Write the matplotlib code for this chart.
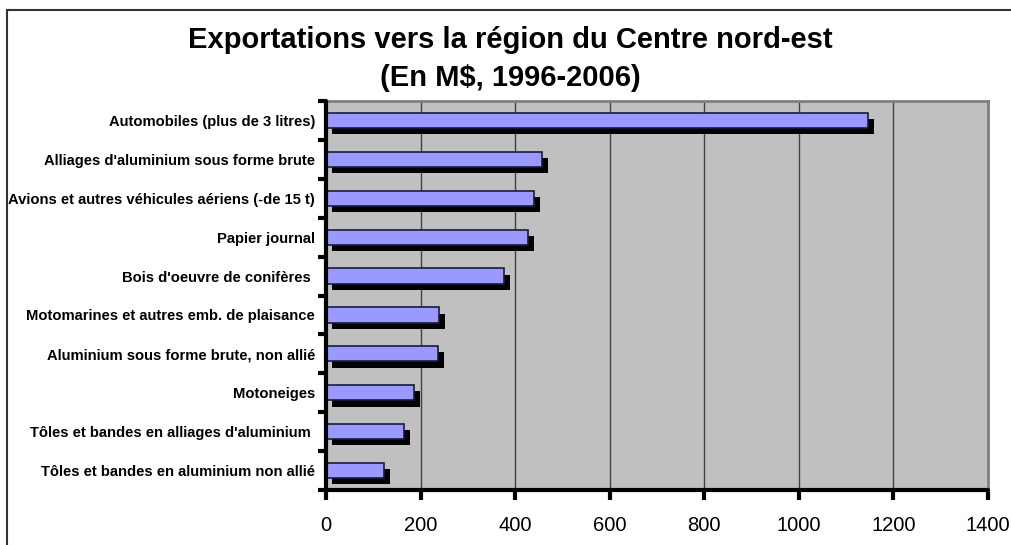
# -*- coding: utf-8 -*-
"""
Exportations vers la région du Centre nord-est (En M$, 1996-2006)
Barres horizontales avec ombre portée, style Excel.
"""

import numpy as np # Pour les positions des catégories
import matplotlib
matplotlib.use('Agg') # Pas d'affichage, on sauvegarde seulement
import matplotlib.pyplot as plt # Pour dessiner le graphique
from matplotlib.patches import Rectangle # Pour le cadre autour de la figure

# Données (du haut vers le bas)
categories = [
    "Automobiles (plus de 3 litres)",
    "Alliages d'aluminium sous forme brute",
    "Avions et autres véhicules aériens (-de 15 t)",
    "Papier journal",
    "Bois d'oeuvre de conifères ",
    "Motomarines et autres emb. de plaisance",
    "Aluminium sous forme brute, non allié",
    "Motoneiges",
    "Tôles et bandes en alliages d'aluminium ",
    "Tôles et bandes en aluminium non allié",
]
valeurs = [1147, 456, 440, 428, 377, 240, 236, 187, 164, 123]
ticks_x = [0, 200, 400, 600, 800, 1000, 1200, 1400]

plt.rcParams['font.family'] = ['Liberation Sans', 'DejaVu Sans']

fig = plt.figure(figsize=(10.11, 5.45), dpi=100) # 1011x545 pixels
ax = fig.add_axes([326 / 1011, 1 - 490 / 545, (988 - 326) / 1011, (490 - 101) / 545])

y = np.arange(len(categories)) # Une position par catégorie
haut = 0.39 # Hauteur des barres
dx = 12.7 # Décalage horizontal de l'ombre (unités de données, ~6 px)
dy = 0.16 # Décalage vertical de l'ombre

# Ombre noire puis barre bleue par-dessus
ax.barh(y + dy, valeurs, height=haut, left=dx, color='black', zorder=2)
ax.barh(y, valeurs, height=haut, color='#9999FF', edgecolor='#1a1a40', linewidth=1.2, zorder=3)
# L'ombre ne commence pas avant l'axe
ax.barh(y + dy, [dx] * len(y), height=haut, left=0, color='#C0C0C0', zorder=2.5)

ax.set_xlim(0, 1400)
ax.set_ylim(len(categories) - 0.5, -0.5) # Première catégorie en haut
ax.set_facecolor('#C0C0C0')

# Grille verticale
for v in ticks_x[1:-1]:
    ax.axvline(v, color='#404040', linewidth=1.0, zorder=1)

# Axes : gauche et bas épais, haut et droite gris
for s in ['top', 'right']:
    ax.spines[s].set_color('#808080')
    ax.spines[s].set_linewidth(2.0)
for s in ['left', 'bottom']:
    ax.spines[s].set_color('black')
    ax.spines[s].set_linewidth(3.0)
    ax.spines[s].set_capstyle('round')
    ax.spines[s].set_zorder(5)

ax.set_xticks(ticks_x)
ax.set_xticklabels([str(t) for t in ticks_x], fontsize=14.5)
ax.tick_params(axis='x', direction='out', length=7, width=3, color='black', pad=12)

# Étiquettes au centre, graduations entre les catégories
ax.set_yticks(y)
ax.set_yticklabels(categories, fontsize=10.6, fontweight='bold')
ax.tick_params(axis='y', which='major', length=0, pad=8)
ax.set_yticks(np.arange(len(categories) + 1) - 0.5, minor=True)
ax.tick_params(axis='y', which='minor', direction='out', length=6, width=3, color='black')

fig.text(0.505, 1 - 59 / 545, "Exportations vers la région du Centre nord-est\n(En M\\$, 1996-2006)",
         ha='center', va='center', fontsize=21, fontweight='bold', linespacing=1.42)

# Cadre de la zone du graphique (coupé à droite et en bas)
fig.patches.append(Rectangle((7 / 1011, -0.1), 1.1, 1 - 10 / 545 + 0.1, transform=fig.transFigure,
                             fill=False, edgecolor='#333333', linewidth=1.5))

fig.savefig('out.png', dpi=100)
